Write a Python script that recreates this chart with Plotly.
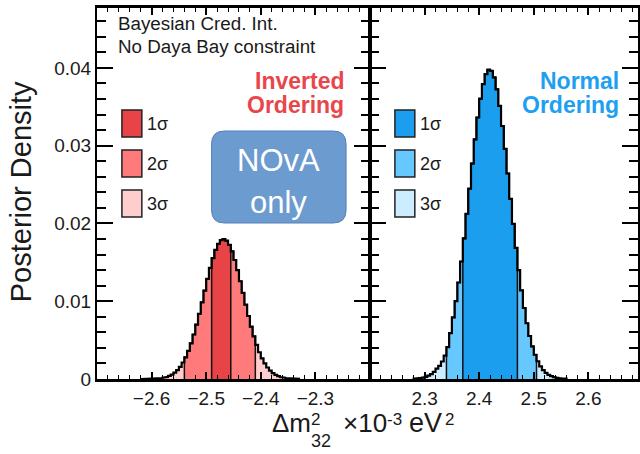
import numpy as np
import plotly.graph_objects as go

# ---------------- data ----------------
bin_width = 0.005
io_first_edge = -2.62
io_density = [
    0.000003, 0.000006, 0.00001, 0.000017, 0.000028, 0.000046, 0.000073, 0.000114,
    0.000176, 0.000267, 0.000395, 0.000574, 0.00082, 0.00115, 0.00157, 0.00212,
    0.00279, 0.00362, 0.00459, 0.00572, 0.00700, 0.00839, 0.00986, 0.01137,
    0.01287, 0.01428, 0.01554, 0.01660, 0.01738, 0.01786, 0.01800, 0.01779,
    0.01725, 0.01641, 0.01530, 0.01401, 0.01257, 0.01107, 0.00956, 0.00810,
    0.00673, 0.00549, 0.00439, 0.00344, 0.00265, 0.00200, 0.00148, 0.00107,
    0.00076, 0.00053, 0.00037, 0.00025, 0.00016, 0.00010, 0.00007, 0.00004,
    0.00003, 0.00002,
]
no_first_edge = 2.28
no_density = [
    0.000044, 0.000072, 0.000115, 0.000181, 0.00028, 0.000424, 0.000632, 0.000924,
    0.00133, 0.00170, 0.00225, 0.00300, 0.00410, 0.00590, 0.00792, 0.01000,
    0.01241, 0.01511, 0.01807, 0.02122, 0.02447, 0.02770, 0.03080, 0.03362,
    0.03604, 0.03792, 0.03919, 0.03977, 0.03962, 0.03877, 0.03724, 0.03512,
    0.03253, 0.02958, 0.02642, 0.02316, 0.01994, 0.01686, 0.01399, 0.01140,
    0.00913, 0.00717, 0.00553, 0.00419, 0.00312, 0.00228, 0.00163, 0.00115,
    0.00080, 0.00054, 0.00036, 0.00024, 0.00015, 0.000096, 0.000059, 0.000036,
]
io_interval_1s = (-2.49, -2.455)
io_interval_2s = (-2.54, -2.41)
no_interval_1s = (2.37, 2.47)
no_interval_2s = (2.34, 2.505)

io_colors = {"1": "rgb(232,68,72)", "2": "rgb(255,122,122)", "3": "rgb(255,205,205)"}
no_colors = {"1": "rgb(28,158,238)", "2": "rgb(102,200,255)", "3": "rgb(204,236,255)"}
io_text_color = "rgb(233,70,75)"
no_text_color = "rgb(30,160,240)"

y_ticks = [0, 0.01, 0.02, 0.03, 0.04]
y_ticktext = ["0", "0.01", "0.02", "0.03", "0.04"]
io_xticks = [-2.6, -2.5, -2.4, -2.3]
no_xticks = [2.3, 2.4, 2.5, 2.6]
sigma_labels = ["1σ", "2σ", "3σ"]

# ---------------- geometry ----------------
W, H = 640, 454
ML, MR, MT, MB = 97, 0, 8, 75
PW = W - ML - MR
PH = H - MT - MB
split = (371 - ML) / PW
io_range = [-2.7, -2.2]
px_per_unit = (split * PW) / (io_range[1] - io_range[0])
no_range = [2.2, 2.2 + ((1 - split) * PW) / px_per_unit]
y_range = [0, 0.0477]

FONT = "Liberation Sans, Arial, Helvetica, sans-serif"
TXT = "#1a1a1a"


def px_x(px):
    return (px - ML) / PW


def px_y(py):
    return (H - MB - py) / PH


def edges_of(first, vals):
    return first + bin_width * np.arange(len(vals) + 1)


def step_polygon(edges, vals, lo=None, hi=None):
    xs, ys = [], []
    eps = 1e-9
    for i, v in enumerate(vals):
        a, b = edges[i], edges[i + 1]
        if lo is not None and (a < lo - eps or b > hi + eps):
            continue
        if not xs:
            xs.append(a)
            ys.append(0)
        xs += [a, b]
        ys += [v, v]
    xs.append(xs[-1])
    ys.append(0)
    return xs, ys


fig = go.Figure()


def add_hist(first, vals, i1, i2, colors, xa, ya):
    edges = edges_of(first, vals)
    xs, ys = step_polygon(edges, vals)
    fig.add_trace(go.Scatter(x=xs, y=ys, fill="toself", fillcolor=colors["3"],
                             line=dict(width=0), mode="lines", xaxis=xa, yaxis=ya,
                             hoverinfo="skip"))
    for (lo, hi), c in ((i2, colors["2"]), (i1, colors["1"])):
        bx, by = step_polygon(edges, vals, lo, hi)
        fig.add_trace(go.Scatter(x=bx, y=by, fill="toself", fillcolor=c,
                                 line=dict(width=1.5, color="#111"), mode="lines",
                                 xaxis=xa, yaxis=ya, hoverinfo="skip"))
    fig.add_trace(go.Scatter(x=xs, y=ys, mode="lines",
                             line=dict(width=2.2, color="black"),
                             xaxis=xa, yaxis=ya, hoverinfo="skip"))


add_hist(io_first_edge, io_density, io_interval_1s, io_interval_2s, io_colors, "x", "y")
add_hist(no_first_edge, no_density, no_interval_1s, no_interval_2s, no_colors, "x2", "y2")

xcommon = dict(ticks="inside", ticklen=7, tickwidth=1.5, tickcolor="black",
               showline=True, linewidth=2.5, linecolor="black", mirror="ticks",
               showgrid=False, zeroline=False,
               tickfont=dict(family=FONT, size=19, color=TXT))
ycommon = dict(range=y_range, tickvals=y_ticks, ticktext=y_ticktext,
               ticks="inside", ticklen=16, tickwidth=1.8, tickcolor="black",
               minor=dict(dtick=0.002, tick0=0, ticks="inside", ticklen=9,
                          tickwidth=1.5, tickcolor="black", showgrid=False),
               showline=True, linewidth=2, linecolor="black", mirror="ticks",
               showgrid=False, zeroline=False,
               tickfont=dict(family=FONT, size=19, color=TXT))

fig.update_layout(
    width=W, height=H, margin=dict(l=ML, r=MR, t=MT, b=MB),
    paper_bgcolor="white", plot_bgcolor="white", showlegend=False,
    xaxis=dict(domain=[0, split], range=io_range, tickvals=io_xticks,
               minor=dict(dtick=0.02, tick0=-2.7, ticks="inside", ticklen=4,
                          tickwidth=1.2, tickcolor="black", showgrid=False),
               **xcommon),
    xaxis2=dict(domain=[split, 1], range=no_range, tickvals=no_xticks,
                minor=dict(dtick=0.02, tick0=2.2, ticks="inside", ticklen=4,
                           tickwidth=1.2, tickcolor="black", showgrid=False),
                **xcommon),
    yaxis=dict(anchor="x", **ycommon),
    yaxis2=dict(anchor="x2", showticklabels=False, **ycommon),
)

shapes = []
ann = []

# legend boxes
for panel_x, colors, label_x in ((122, io_colors, 145), (396, no_colors, 419)):
    for k, lab in enumerate(sigma_labels):
        y0 = 110 + 40 * k
        shapes.append(dict(type="rect", xref="paper", yref="paper",
                           x0=px_x(panel_x), x1=px_x(panel_x + 20),
                           y0=px_y(y0 + 27), y1=px_y(y0),
                           fillcolor=colors[str(k + 1)],
                           line=dict(color="#222", width=1.5)))
        ann.append(dict(text=lab, x=px_x(label_x), y=px_y(y0 + 14),
                        xanchor="left", yanchor="middle",
                        font=dict(family=FONT, size=18, color=TXT)))

# NOvA only box (rounded)
bx0, bx1, by0, by1, r = 212, 347, 131, 223, 13
pts = [
    f"M {px_x(bx0 + r)},{px_y(by0)}",
    f"L {px_x(bx1 - r)},{px_y(by0)}",
    f"Q {px_x(bx1)},{px_y(by0)} {px_x(bx1)},{px_y(by0 + r)}",
    f"L {px_x(bx1)},{px_y(by1 - r)}",
    f"Q {px_x(bx1)},{px_y(by1)} {px_x(bx1 - r)},{px_y(by1)}",
    f"L {px_x(bx0 + r)},{px_y(by1)}",
    f"Q {px_x(bx0)},{px_y(by1)} {px_x(bx0)},{px_y(by1 - r)}",
    f"L {px_x(bx0)},{px_y(by0 + r)}",
    f"Q {px_x(bx0)},{px_y(by0)} {px_x(bx0 + r)},{px_y(by0)} Z",
]
shapes.append(dict(type="path", xref="paper", yref="paper", path=" ".join(pts),
                   fillcolor="rgb(108,155,208)", line=dict(color="rgb(84,128,184)", width=1)))
ann.append(dict(text="NOvA", x=px_x((bx0 + bx1) / 2), y=px_y(160),
                xanchor="center", yanchor="middle",
                font=dict(family=FONT, size=31, color="white")))
ann.append(dict(text="only", x=px_x((bx0 + bx1) / 2), y=px_y(202),
                xanchor="center", yanchor="middle",
                font=dict(family=FONT, size=31, color="white")))

# info text
ann.append(dict(text="Bayesian Cred. Int.", x=px_x(116), y=px_y(23),
                xanchor="left", yanchor="middle",
                font=dict(family=FONT, size=18.8, color=TXT)))
ann.append(dict(text="No Daya Bay constraint", x=px_x(116), y=px_y(46),
                xanchor="left", yanchor="middle",
                font=dict(family=FONT, size=18.8, color=TXT)))

# ordering labels
for l1, l2, xr, col in (("Inverted", "Ordering", 347, io_text_color),
                        ("Normal", "Ordering", 623, no_text_color)):
    ann.append(dict(text=f"<b>{l1}</b>", x=px_x(xr), y=px_y(81),
                    xanchor="right", yanchor="middle",
                    font=dict(family=FONT, size=23, color=col)))
    ann.append(dict(text=f"<b>{l2}</b>", x=px_x(xr), y=px_y(105),
                    xanchor="right", yanchor="middle",
                    font=dict(family=FONT, size=23, color=col)))

# axis titles
ann.append(dict(text="Posterior Density", x=px_x(21), y=px_y(192),
                xanchor="center", yanchor="middle", textangle=-90,
                font=dict(family=FONT, size=29, color=TXT)))
ann.append(dict(text="Δm", x=px_x(271), y=px_y(423), xanchor="left", yanchor="middle",
                font=dict(family=FONT, size=26, color=TXT)))
ann.append(dict(text="2", x=px_x(310), y=px_y(419), xanchor="left", yanchor="middle",
                font=dict(family=FONT, size=17, color=TXT)))
ann.append(dict(text="32", x=px_x(310), y=px_y(441), xanchor="left", yanchor="middle",
                font=dict(family=FONT, size=18, color=TXT)))
ann.append(dict(text="×10", x=px_x(342), y=px_y(423), xanchor="left", yanchor="middle",
                font=dict(family=FONT, size=26, color=TXT)))
ann.append(dict(text="-3", x=px_x(386), y=px_y(419), xanchor="left", yanchor="middle",
                font=dict(family=FONT, size=17, color=TXT)))
ann.append(dict(text="eV", x=px_x(408), y=px_y(423), xanchor="left", yanchor="middle",
                font=dict(family=FONT, size=27, color=TXT)))
ann.append(dict(text="2", x=px_x(444), y=px_y(419), xanchor="left", yanchor="middle",
                font=dict(family=FONT, size=17, color=TXT)))

for a in ann:
    a.update(xref="paper", yref="paper", showarrow=False)
fig.update_layout(shapes=shapes, annotations=ann)

fig.write_html("out.html")
